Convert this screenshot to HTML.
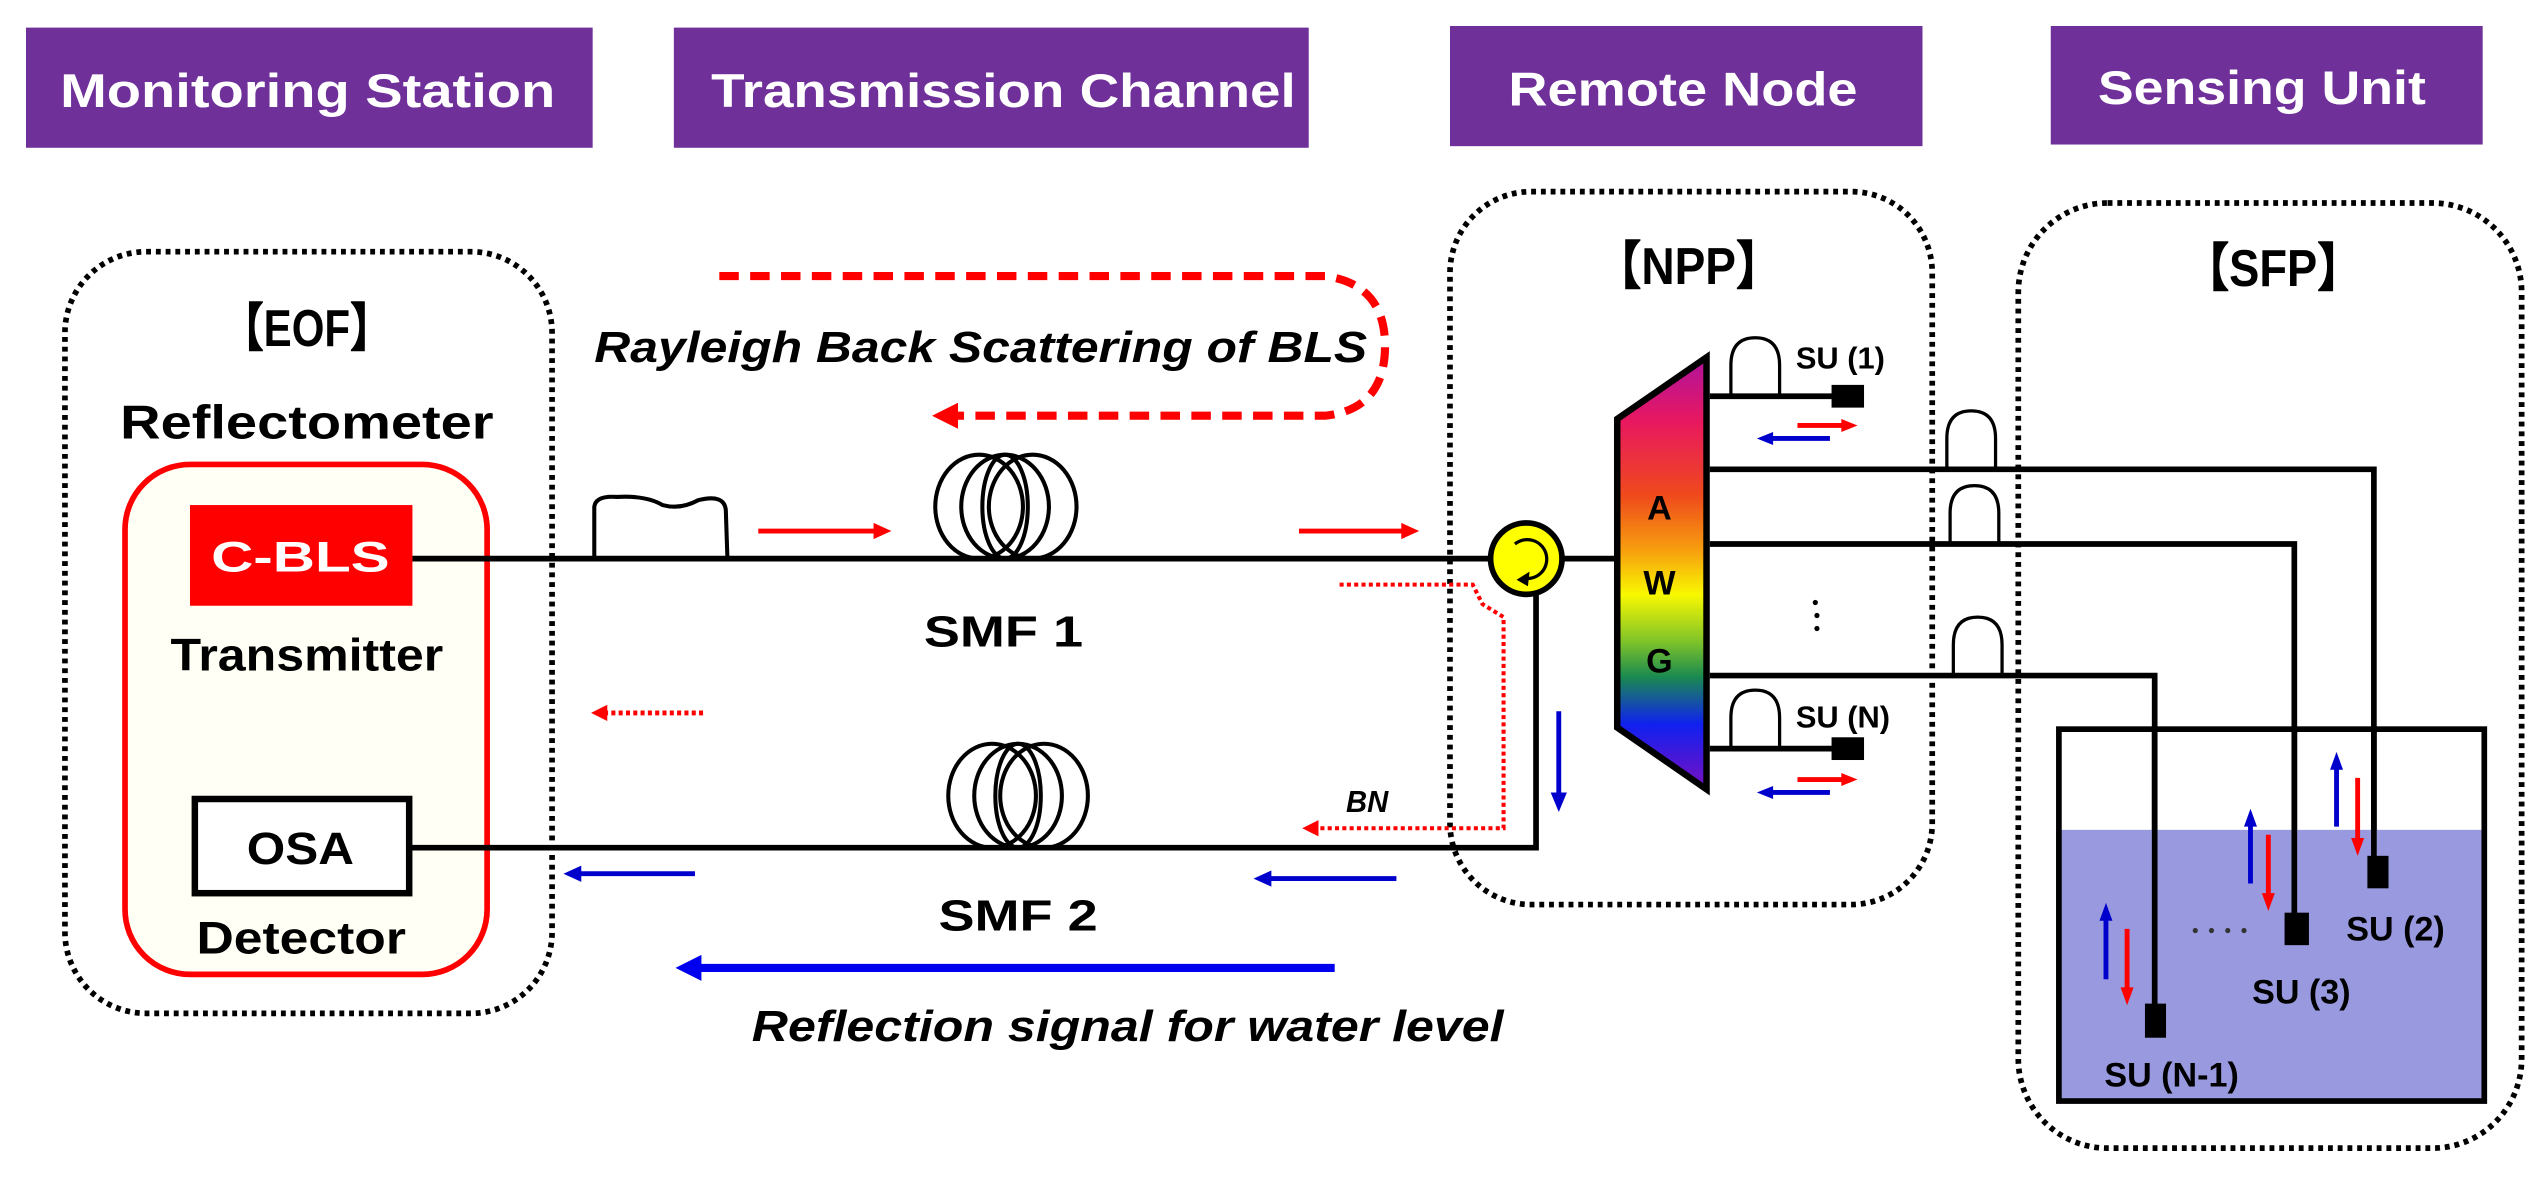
<!DOCTYPE html>
<html><head><meta charset="utf-8"><style>
html,body{margin:0;padding:0;background:#fff;}
svg{display:block;}
text{font-family:"Liberation Sans",Arial,sans-serif;font-weight:bold;}
</style></head><body>
<svg width="2546" height="1179" viewBox="0 0 1568 726" preserveAspectRatio="none" xmlns="http://www.w3.org/2000/svg">
<defs>
<linearGradient id="rb" x1="0" y1="0" x2="0" y2="1">
<stop offset="0" stop-color="#b0129e"/>
<stop offset="0.15" stop-color="#e8185f"/>
<stop offset="0.32" stop-color="#ef4a1c"/>
<stop offset="0.45" stop-color="#f7a10e"/>
<stop offset="0.55" stop-color="#f8f800"/>
<stop offset="0.66" stop-color="#7cc22a"/>
<stop offset="0.74" stop-color="#1a8a50"/>
<stop offset="0.85" stop-color="#1020f0"/>
<stop offset="1" stop-color="#7a10c0"/>
</linearGradient>
</defs>

<!-- headers -->
<rect x="16" y="17" width="349" height="74" fill="#70309a"/>
<rect x="415" y="17" width="391" height="74" fill="#70309a"/>
<rect x="893" y="16" width="291" height="74" fill="#70309a"/>
<rect x="1263" y="16" width="266" height="73" fill="#70309a"/>
<g fill="#fff" font-size="29">
<text x="37" y="66" textLength="305" lengthAdjust="spacingAndGlyphs">Monitoring  Station</text>
<text x="438" y="66" textLength="360" lengthAdjust="spacingAndGlyphs">Transmission Channel</text>
<text x="929" y="65" textLength="215" lengthAdjust="spacingAndGlyphs">Remote Node</text>
<text x="1292" y="64" textLength="202" lengthAdjust="spacingAndGlyphs">Sensing Unit</text>
</g>

<!-- dotted boxes -->
<g fill="none" stroke="#000" stroke-width="3.5" stroke-dasharray="3 3">
<rect x="40" y="155" width="300" height="469" rx="50"/>
<rect x="893" y="118" width="297" height="439" rx="50"/>
<rect x="1243" y="125" width="310" height="582" rx="55"/>
</g>

<!-- EOF -->
<text x="189" y="213" font-size="32" text-anchor="middle" textLength="105" lengthAdjust="spacingAndGlyphs">【EOF】</text>
<text x="74" y="270" font-size="29" textLength="230" lengthAdjust="spacingAndGlyphs">Reflectometer</text>
<rect x="77" y="286" width="223" height="314" rx="40" fill="#fffff5" stroke="#f00" stroke-width="3.5"/>
<rect x="117" y="311" width="137" height="62" fill="#f00"/>
<text x="185" y="352" font-size="26" fill="#fff" text-anchor="middle" textLength="110" lengthAdjust="spacingAndGlyphs">C-BLS</text>
<text x="105" y="413" font-size="28" textLength="168" lengthAdjust="spacingAndGlyphs">Transmitter</text>
<rect x="120" y="492" width="132" height="58" fill="#fff" stroke="#000" stroke-width="4"/>
<text x="185" y="532" font-size="28" text-anchor="middle" textLength="66" lengthAdjust="spacingAndGlyphs">OSA</text>
<text x="121" y="587" font-size="28" textLength="129" lengthAdjust="spacingAndGlyphs">Detector</text>

<!-- main fibers -->
<g stroke="#000" stroke-width="3.5" fill="none">
<line x1="254" y1="344" x2="918" y2="344"/>
<path d="M252 522 L946 522 L946 366"/>
<line x1="962" y1="344" x2="996" y2="344"/>
</g>
<!-- pulse -->
<path d="M366 344 L366 312 Q367 305 380 306 Q398 305 408 311 Q419 314 430 308 Q446 304 447 314 L448 344" fill="none" stroke="#000" stroke-width="2.5"/>
<!-- coils -->
<g fill="none" stroke="#000" stroke-width="2.5">
<ellipse cx="603" cy="312" rx="27" ry="32"/><ellipse cx="619" cy="312" rx="27" ry="32"/><ellipse cx="636" cy="312" rx="27" ry="32"/><ellipse cx="619" cy="312" rx="14" ry="32"/>
<ellipse cx="611" cy="490" rx="27" ry="32"/><ellipse cx="627" cy="490" rx="27" ry="32"/><ellipse cx="643" cy="490" rx="27" ry="32"/><ellipse cx="627" cy="490" rx="14" ry="32"/>
</g>
<text x="618" y="398" font-size="27" text-anchor="middle" textLength="98" lengthAdjust="spacingAndGlyphs">SMF  1</text>
<text x="627" y="573" font-size="27" text-anchor="middle" textLength="98" lengthAdjust="spacingAndGlyphs">SMF  2</text>

<!-- Rayleigh loop -->
<path d="M443 170 L816 170 Q853 175 853 213 Q853 252 816 256 L588 256" fill="none" stroke="#f00" stroke-width="5" stroke-dasharray="12 7"/>
<polygon points="574,256 590,248 590,264" fill="#f00"/>
<text x="366" y="223" font-size="27" font-style="italic" textLength="476" lengthAdjust="spacingAndGlyphs">Rayleigh Back Scattering of BLS</text>

<!-- red arrows -->
<g stroke="#f00" stroke-width="3">
<line x1="467" y1="327" x2="540" y2="327"/><line x1="800" y1="327" x2="865" y2="327"/>
</g>
<polygon points="549,327 538,322 538,332" fill="#f00"/>
<polygon points="874,327 863,322 863,332" fill="#f00"/>
<line x1="372" y1="439" x2="434" y2="439" stroke="#f00" stroke-width="3" stroke-dasharray="2.5 2"/>
<polygon points="364,439 374,434 374,444" fill="#f00"/>

<!-- BN dotted path -->
<path d="M825 360 L907 360 L913 372 L926 380 L926 510 L812 510" fill="none" stroke="#f00" stroke-width="2.5" stroke-dasharray="2.5 2"/>
<polygon points="802,510 812,505 812,515" fill="#f00"/>
<text x="829" y="500" font-size="19" font-style="italic" textLength="26" lengthAdjust="spacingAndGlyphs">BN</text>

<!-- blue arrows -->
<g stroke="#00c" stroke-width="3">
<line x1="356" y1="538" x2="428" y2="538"/><line x1="781" y1="541" x2="860" y2="541"/>
<line x1="960" y1="438" x2="960" y2="490"/>
</g>
<polygon points="347,538 358,533 358,543" fill="#00c"/>
<polygon points="772,541 783,536 783,546" fill="#00c"/>
<polygon points="960,500 955,488 965,488" fill="#00c"/>
<line x1="430" y1="596" x2="822" y2="596" stroke="#00e" stroke-width="5"/>
<polygon points="416,596 432,588 432,604" fill="#00e"/>
<text x="463" y="641" font-size="27" font-style="italic" textLength="463" lengthAdjust="spacingAndGlyphs">Reflection signal for water level</text>

<!-- circulator -->
<circle cx="940" cy="344" r="22" fill="#ff0" stroke="#000" stroke-width="3.5"/>
<path d="M933 335 A12 12 0 1 1 938 356" fill="none" stroke="#000" stroke-width="2"/>
<polygon points="934,357 942,352 941,361" fill="#000"/>

<!-- NPP / SFP labels -->
<text x="1040" y="175" font-size="32" text-anchor="middle" textLength="115" lengthAdjust="spacingAndGlyphs">【NPP】</text>
<text x="1400" y="176" font-size="32" text-anchor="middle" textLength="110" lengthAdjust="spacingAndGlyphs">【SFP】</text>

<!-- AWG -->
<polygon points="996,258 1051,220 1051,486 996,448" fill="url(#rb)" stroke="#000" stroke-width="4"/>
<g font-size="21" text-anchor="middle"><text x="1022" y="320">A</text><text x="1022" y="366">W</text><text x="1022" y="414">G</text></g>

<!-- AWG outputs -->
<g stroke="#000" stroke-width="3.5" fill="none">
<line x1="1053" y1="244" x2="1132" y2="244"/>
<line x1="1053" y1="461" x2="1132" y2="461"/>
<path d="M1053 289 L1462 289 L1462 530"/>
<path d="M1053 335 L1413 335 L1413 566"/>
<path d="M1053 416 L1327 416 L1327 620"/>
</g>
<g fill="none" stroke="#000" stroke-width="2">
<path d="M1066 244 L1066 225 Q1066 208 1081 208 Q1096 208 1096 225 L1096 244"/>
<path d="M1066 461 L1066 442 Q1066 425 1081 425 Q1096 425 1096 442 L1096 461"/>
<path d="M1199 289 L1199 270 Q1199 253 1214 253 Q1229 253 1229 270 L1229 289"/>
<path d="M1201 335 L1201 316 Q1201 299 1216 299 Q1231 299 1231 316 L1231 335"/>
<path d="M1203 416 L1203 397 Q1203 380 1218 380 Q1233 380 1233 397 L1233 416"/>
</g>
<rect x="1128" y="237" width="20" height="14" fill="#000"/>
<rect x="1128" y="454" width="20" height="14" fill="#000"/>
<g font-size="19"><text x="1106" y="227">SU (1)</text><text x="1106" y="448">SU (N)</text></g>
<g fill="#000"><circle cx="1118" cy="371" r="1.6"/><circle cx="1119" cy="379" r="1.6"/><circle cx="1119" cy="387" r="1.6"/></g>
<g stroke-width="3">
<line x1="1107" y1="262" x2="1136" y2="262" stroke="#f00"/><line x1="1090" y1="270" x2="1127" y2="270" stroke="#00c"/>
<line x1="1107" y1="480" x2="1136" y2="480" stroke="#f00"/><line x1="1090" y1="488" x2="1127" y2="488" stroke="#00c"/>
</g>
<polygon points="1144,262 1134,258 1134,266" fill="#f00"/><polygon points="1082,270 1092,266 1092,274" fill="#00c"/>
<polygon points="1144,480 1134,476 1134,484" fill="#f00"/><polygon points="1082,488 1092,484 1092,492" fill="#00c"/>

<!-- tank -->
<rect x="1268" y="511" width="262" height="167" fill="#9999e0"/>
<rect x="1268" y="449" width="262" height="229" fill="none" stroke="#000" stroke-width="3.5"/>
<g stroke="#000" stroke-width="3.5"><line x1="1462" y1="449" x2="1462" y2="530"/><line x1="1413" y1="449" x2="1413" y2="566"/><line x1="1327" y1="449" x2="1327" y2="620"/></g>
<rect x="1458" y="527" width="13" height="20" fill="#000"/>
<rect x="1407" y="562" width="15" height="20" fill="#000"/>
<rect x="1321" y="618" width="13" height="21" fill="#000"/>
<g font-size="21"><text x="1445" y="579">SU (2)</text><text x="1387" y="618">SU (3)</text><text x="1296" y="669">SU (N-1)</text></g>
<g fill="#333"><circle cx="1352" cy="573" r="1.6"/><circle cx="1362" cy="573" r="1.6"/><circle cx="1372" cy="573" r="1.6"/><circle cx="1382" cy="573" r="1.6"/></g>
<g stroke-width="3">
<line x1="1297" y1="603" x2="1297" y2="566" stroke="#00c"/><line x1="1310" y1="572" x2="1310" y2="610" stroke="#f00"/>
<line x1="1386" y1="544" x2="1386" y2="507" stroke="#00c"/><line x1="1397" y1="514" x2="1397" y2="552" stroke="#f00"/>
<line x1="1439" y1="509" x2="1439" y2="472" stroke="#00c"/><line x1="1452" y1="479" x2="1452" y2="518" stroke="#f00"/>
</g>
<polygon points="1297,556 1293,567 1301,567" fill="#00c"/><polygon points="1310,619 1306,608 1314,608" fill="#f00"/>
<polygon points="1386,498 1382,509 1390,509" fill="#00c"/><polygon points="1397,561 1393,550 1401,550" fill="#f00"/>
<polygon points="1439,463 1435,474 1443,474" fill="#00c"/><polygon points="1452,527 1448,516 1456,516" fill="#f00"/>
</svg>
</body></html>
